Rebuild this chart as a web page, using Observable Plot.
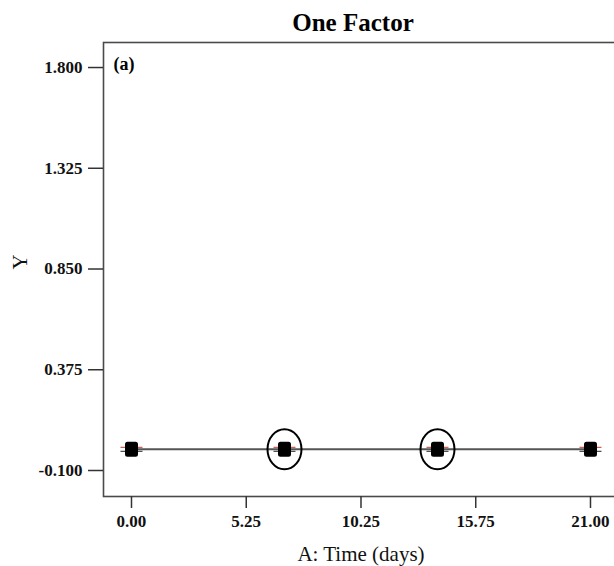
<!DOCTYPE html>
<html>
<head>
<meta charset="utf-8">
<script src="https://cdn.jsdelivr.net/npm/d3@7"></script>
<script src="https://cdn.jsdelivr.net/npm/@observablehq/plot@0.6"></script>
<style>
  html, body { margin: 0; padding: 0; background: #fff; }
  #chart svg { overflow: hidden; }
</style>
</head>
<body>
<div id="chart"></div>
<script>
// ---- data ----
const days = [0, 7, 14, 21];
const yValues = [0, 0, 0, 0];
const circled = [false, true, true, false];
const xTickValues = [0, 5.25, 10.5, 15.75, 21];
const xTickLabels = ["0.00", "5.25", "10.25", "15.75", "21.00"];
const yTickValues = [1.8, 1.325, 0.85, 0.375, -0.1];
const yTickLabels = ["1.800", "1.325", "0.850", "0.375", "-0.100"];
const title = "One Factor";
const panelLabel = "(a)";
const xLabel = "A: Time (days)";
const yLabel = "Y";

const points = days.map((d, i) => ({day: d, y: yValues[i], circled: circled[i]}));
const xFmt = new Map(xTickValues.map((v, i) => [v, xTickLabels[i]]));
const yFmt = new Map(yTickValues.map((v, i) => [v, yTickLabels[i]]));

// custom symbols
const roundedSquare = {
  draw(ctx) {
    const w = 6.5, h = 7.5, r = 2.5;
    ctx.moveTo(-w + r, -h);
    ctx.lineTo(w - r, -h);
    ctx.arcTo(w, -h, w, -h + r, r);
    ctx.lineTo(w, h - r);
    ctx.arcTo(w, h, w - r, h, r);
    ctx.lineTo(-w + r, h);
    ctx.arcTo(-w, h, -w, h - r, r);
    ctx.lineTo(-w, -h + r);
    ctx.arcTo(-w, -h, -w + r, -h, r);
    ctx.closePath();
  }
};
const ellipse = {
  draw(ctx) {
    const rx = 17, ry = 20, k = 0.5523;
    ctx.moveTo(rx, 0);
    ctx.bezierCurveTo(rx, ry * k, rx * k, ry, 0, ry);
    ctx.bezierCurveTo(-rx * k, ry, -rx, ry * k, -rx, 0);
    ctx.bezierCurveTo(-rx, -ry * k, -rx * k, -ry, 0, -ry);
    ctx.bezierCurveTo(rx * k, -ry, rx, -ry * k, rx, 0);
    ctx.closePath();
  }
};
const dash = {
  draw(ctx) {
    ctx.moveTo(-11, 0);
    ctx.lineTo(11, 0);
  }
};

const font = "'Liberation Serif', 'Times New Roman', serif";

const chart = Plot.plot({
  width: 614,
  height: 566,
  marginLeft: 103,
  marginRight: -10,
  marginTop: 42,
  marginBottom: 70,
  style: {fontFamily: font, background: "#fff", color: "#111"},
  x: {domain: [-1.281, 22.556], label: null},
  y: {domain: [-0.2226, 1.918], label: null},
  marks: [
    Plot.frame({stroke: "#4a4a4a", strokeWidth: 1.6}),
    Plot.axisX({
      ticks: xTickValues,
      tickFormat: d => xFmt.get(d),
      tickSize: 12,
      tickPadding: 6,
      fontSize: 17,
      fontWeight: "bold",
      stroke: "#333",
      strokeWidth: 1.5,
      label: null
    }),
    Plot.axisY({
      ticks: yTickValues,
      tickFormat: d => yFmt.get(d),
      tickSize: 15,
      tickPadding: 6,
      fontSize: 17,
      fontWeight: "bold",
      stroke: "#333",
      strokeWidth: 1.5,
      label: null
    }),
    Plot.line(points, {x: "day", y: "y", stroke: "#555", strokeWidth: 2}),
    Plot.dot(points, {x: "day", y: "y", symbol: dash, stroke: "#c0392b", strokeWidth: 1, dy: -2}),
    Plot.dot(points, {x: "day", y: "y", symbol: dash, stroke: "#222", strokeWidth: 1, dy: 2}),
    Plot.dot(points, {x: "day", y: "y", symbol: roundedSquare, fill: "#000", stroke: "none"}),
    Plot.dot(points.filter(d => d.circled), {x: "day", y: "y", symbol: ellipse, fill: "none", stroke: "#000", strokeWidth: 2}),
    Plot.text([title], {frameAnchor: "top", dx: -11, dy: -20, lineAnchor: "middle", fontSize: 25, fontWeight: "bold", fill: "#000"}),
    Plot.text([panelLabel], {frameAnchor: "top-left", dx: 10, dy: 22, textAnchor: "start", lineAnchor: "middle", fontSize: 18, fontWeight: "bold", fill: "#000"}),
    Plot.text([xLabel], {frameAnchor: "bottom", dx: -3, dy: 58, lineAnchor: "middle", fontSize: 21, fill: "#111"}),
    Plot.text([yLabel], {frameAnchor: "left", dx: -83, rotate: -90, lineAnchor: "middle", fontSize: 21, fill: "#111"})
  ]
});

document.getElementById("chart").append(chart);
</script>
</body>
</html>
